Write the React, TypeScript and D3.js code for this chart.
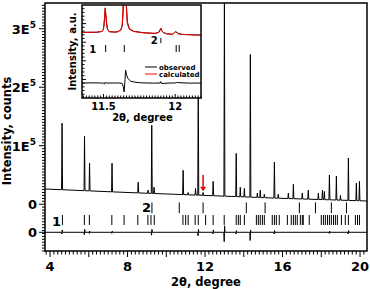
import React from 'react';
import * as d3 from 'd3';

const W = 370;
const H = 289;
const FONT = '"DejaVu Sans", Verdana, sans-serif';

// main pattern: peak positions (2theta, deg) and peak tops (x1e5 counts)
const peakPos = [4.62, 5.78, 6.04, 7.2, 8.55, 9.06, 9.25, 9.37, 10.87, 11.13, 11.51, 11.65, 11.9, 12.42, 13.0,
  13.61, 13.82, 14.03, 14.34, 14.7, 14.85, 15.06, 15.58, 15.78, 16.3, 16.56, 17.02, 17.33, 17.85, 18.06,
  18.16, 18.42, 18.78, 18.99, 19.4, 19.81, 19.97];
const peakTop = [1.385, 1.16, 0.7, 0.7, 0.376, 0.24, 1.35, 0.29, 0.58, 0.2, 0.27, 2.1, 0.2, 0.39, 3.6,
  0.87, 0.29, 0.27, 2.56, 0.19, 0.24, 0.17, 0.72, 0.17, 0.19, 0.34, 0.19, 0.24, 0.19, 0.24,
  0.22, 0.5, 0.48, 0.15, 0.79, 0.36, 0.39];
const bgPos = [3.74, 8, 12, 16, 20.36];
const bgVal = [0.26, 0.2, 0.15, 0.1, 0.055];

// Bragg reflection ticks
const phase1 = [4.64, 5.77, 6.03, 7.19, 7.82, 8.53, 9.05, 9.21, 9.38, 10.86, 11.0, 11.13, 11.49, 11.65, 12.03,
  12.42, 12.99, 13.61, 13.72, 13.82, 14.03, 14.65, 14.75, 14.85, 14.96, 15.06, 15.47, 15.58, 15.68, 15.83,
  16.25, 16.45, 16.56, 16.66, 16.76, 16.92, 17.02, 17.07, 17.38, 18.0, 18.11, 18.21, 18.32, 18.42, 18.52,
  18.63, 18.73, 18.83, 19.04, 19.24, 19.4, 19.76, 19.87, 19.97];
const phase2 = [9.26, 10.67, 11.9, 14.13, 15.1, 16.87, 17.7, 18.52, 19.3];

// difference curve spikes (x1e5)
const diffPos = [4.62, 5.78, 6.04, 7.2, 9.25, 11.65, 12.42, 13.0, 13.61, 14.34, 15.58, 18.42, 19.4];
const diffLo = [-0.03, -0.04, -0.02, -0.02, -0.05, -0.06, -0.03, -0.16, -0.03, -0.14, -0.03, -0.02, -0.03];
const diffHi = [0.04, 0.05, 0.02, 0.02, 0.05, 0.05, 0.04, 0.11, 0.03, 0.04, 0.03, 0.02, 0.03];
const diffZero = -0.48;

// inset (a.u.)
const insetPos = [11.35, 11.45, 11.49, 11.5, 11.505, 11.512, 11.52, 11.527, 11.54, 11.58, 11.6, 11.62, 11.63, 11.636,
  11.641, 11.648, 11.655, 11.66, 11.666, 11.68, 11.71, 11.78, 11.86, 11.885, 11.895, 11.9, 11.905, 11.915,
  11.94, 11.98, 11.995, 12.003, 12.01, 12.025, 12.05, 12.18];
const insetCalc = [70.5, 70.8, 71.5, 74, 82, 97, 82, 74, 71.5, 70.8, 71.2, 73, 78, 95,
  130, 200, 130, 95, 80, 74, 71.5, 70, 69.5, 70.5, 73, 74.5, 73, 70.5,
  69, 68.5, 70, 71.5, 70.5, 69, 68.3, 67.5];
const insetObs = [70.7, 70.6, 71.6, 74.2, 81, 96, 83, 74.3, 71.2, 70.9, 71.3, 73.2, 77, 90,
  120, 205, 140, 100, 82, 74.5, 71.7, 70.2, 69.4, 70.6, 73.5, 75, 72.8, 70.6,
  69.1, 68.4, 70.2, 71.3, 70.6, 69.2, 68.4, 67.6];
const insetDiffPos = [11.35, 11.42, 11.5, 11.507, 11.513, 11.52, 11.6, 11.63, 11.638, 11.644, 11.65, 11.654, 11.66,
  11.67, 11.69, 11.72, 11.76, 11.85, 11.895, 11.9, 11.905, 11.95, 12.0, 12.01, 12.1, 12.18];
const insetDiffVal = [16, 16.3, 16.1, 14.8, 17.2, 16, 16.2, 15.8, 12, 6.5, 20, 30, 25,
  21, 18, 17, 16.3, 16, 16.1, 17.6, 15.6, 16, 16.2, 16.6, 16, 16.1];
const insetPhase1 = [11.515, 11.645, 12.007, 12.028];
const insetPhase2 = [11.9];

const M = { l: 45, r: 367, t: 3, b: 251 };
const I = { l: 82, r: 201, t: 5, b: 98 };

export default function App() {
  const x = d3.scaleLinear().domain([3.74, 20.36]).range([M.l, M.r]);
  const y = d3.scaleLinear().domain([-0.8, 3.44]).range([M.b, M.t]);
  const bg = d3.scaleLinear().domain(bgPos).range(bgVal);

  const obsPts: [number, number][] = [[bgPos[0], bgVal[0]]];
  peakPos.forEach((p, i) => {
    obsPts.push([p - 0.025, bg(p - 0.025)], [p, peakTop[i]], [p + 0.025, bg(p + 0.025)]);
  });
  obsPts.push([bgPos[bgPos.length - 1], bgVal[bgVal.length - 1]]);

  const diffPts: [number, number][] = [[3.74, diffZero]];
  diffPos.forEach((p, i) => {
    diffPts.push([p - 0.03, diffZero], [p - 0.01, diffZero + diffLo[i]], [p + 0.01, diffZero + diffHi[i]], [p + 0.03, diffZero]);
  });
  diffPts.push([20.36, diffZero]);

  const line = d3.line<[number, number]>().x(d => x(d[0])).y(d => y(d[1]));

  const xi = d3.scaleLinear().domain([11.35, 12.18]).range([I.l, I.r]);
  const yi = d3.scaleLinear().domain([0, 100]).range([I.b, I.t]);
  const lineI = d3.line<number>().x((_, i) => xi(insetPos[i])).y(d => yi(d));
  const diffI = d3.line<number>().x((_, i) => xi(insetDiffPos[i])).y(d => yi(d));

  const xTicks = d3.range(19, 102).map(i => ({ v: i * 0.2, major: i % 10 === 0, label: i % 20 === 0 }));
  const yTicks = d3.range(-16, 69).map(i => ({ v: i * 0.05, major: i % 20 === 0 }));
  const xiTicks = d3.range(568, 610).map(i => ({ v: i * 0.02, major: i % 25 === 0 }));
  const yiTicks = d3.range(1, 25).map(i => ({ v: i * 4, major: i % 5 === 0 }));

  const txt = { fontFamily: FONT, fontWeight: 'bold' as const, fill: '#000' };

  return (
    <svg width={W} height={H} style={{ position: 'absolute', left: 0, top: 0 }}>
      <defs>
        <clipPath id="cm"><rect x={M.l} y={M.t} width={M.r - M.l} height={M.b - M.t} /></clipPath>
        <clipPath id="ci"><rect x={I.l} y={I.t} width={I.r - I.l} height={I.b - I.t} /></clipPath>
      </defs>
      <rect width={W} height={H} fill="#fff" />

      <g clipPath="url(#cm)">
        <path d={line(obsPts) ?? ''} fill="none" stroke="#000" strokeWidth={1} />
        <path d={line(diffPts) ?? ''} fill="none" stroke="#000" strokeWidth={1} />
        {phase1.map((p, i) => (
          <line key={'a' + i} x1={x(p)} x2={x(p)} y1={y(-0.185)} y2={y(-0.355)} stroke="#000" strokeWidth={1} />
        ))}
        {phase2.map((p, i) => (
          <line key={'b' + i} x1={x(p)} x2={x(p)} y1={y(0.03)} y2={y(-0.155)} stroke="#000" strokeWidth={1} />
        ))}
      </g>
      <text x={x(4.1)} y={y(-0.29) + 5} {...txt} fontSize={13}>1</text>
      <text x={x(8.75)} y={y(-0.05) + 5} {...txt} fontSize={13}>2</text>

      {/* red arrow */}
      <line x1={x(11.9)} x2={x(11.9)} y1={y(0.5)} y2={y(0.3)} stroke="#e00000" strokeWidth={1.5} />
      <path d={`M${x(11.9) - 3},${y(0.3)} L${x(11.9) + 3},${y(0.3)} L${x(11.9)},${y(0.22)} Z`} fill="#e00000" />

      {/* main frame & ticks */}
      <rect x={M.l} y={M.t} width={M.r - M.l} height={M.b - M.t} fill="none" stroke="#000" strokeWidth={1.5} />
      {xTicks.map((t, i) => (
        <line key={'xt' + i} x1={x(t.v)} x2={x(t.v)} y1={M.b} y2={M.b + (t.major ? 6 : 3.5)} stroke="#000" strokeWidth={1} />
      ))}
      {xTicks.filter(t => t.label).map((t, i) => (
        <text key={'xl' + i} x={x(t.v)} y={M.b + 19.5} textAnchor="middle" {...txt} fontSize={13}>{Math.round(t.v)}</text>
      ))}
      {yTicks.map((t, i) => (
        <line key={'yt' + i} x1={M.l} x2={M.l - (t.major ? 6 : 3)} y1={y(t.v)} y2={y(t.v)} stroke="#000" strokeWidth={1} />
      ))}
      <line x1={M.l} x2={M.l - 6} y1={y(diffZero)} y2={y(diffZero)} stroke="#000" strokeWidth={1} />
      {[1, 2, 3].map(v => (
        <text key={'yl' + v} x={M.l - 9} y={y(v) + 5} textAnchor="end" {...txt} fontSize={13}>
          {v}E<tspan dy={-6} fontSize={9}>5</tspan>
        </text>
      ))}
      <text x={M.l - 8} y={y(0) + 5} textAnchor="end" {...txt} fontSize={13}>0</text>
      <text x={M.l - 8} y={y(diffZero) + 5} textAnchor="end" {...txt} fontSize={13}>0</text>
      <text transform={`translate(11,${(M.t + M.b) / 2 + 4}) rotate(-90)`} textAnchor="middle" {...txt} fontSize={11.5}>Intensity, counts</text>
      <text x={(M.l + M.r) / 2 + 0} y={285.5} textAnchor="middle" {...txt} fontSize={11.5}>2θ, degree</text>

      {/* inset */}
      <rect x={I.l} y={I.t} width={I.r - I.l} height={I.b - I.t} fill="#fff" />
      <g clipPath="url(#ci)">
        <path d={lineI(insetObs) ?? ''} fill="none" stroke="#000" strokeWidth={1} />
        <path d={lineI(insetCalc) ?? ''} fill="none" stroke="#ff0000" strokeWidth={1} />
        <path d={diffI(insetDiffVal) ?? ''} fill="none" stroke="#000" strokeWidth={1} />
        {insetPhase1.map((p, i) => (
          <line key={'ip' + i} x1={xi(p)} x2={xi(p)} y1={yi(57)} y2={yi(49.5)} stroke="#000" strokeWidth={1} />
        ))}
        {insetPhase2.map((p, i) => (
          <line key={'iq' + i} x1={xi(p)} x2={xi(p)} y1={yi(64.5)} y2={yi(59)} stroke="#000" strokeWidth={1} />
        ))}
      </g>
      <text x={xi(11.4)} y={yi(49.5) + 1} {...txt} fontSize={10}>1</text>
      <text x={xi(11.83)} y={yi(58.5)} {...txt} fontSize={10}>2</text>
      {/* legend */}
      <line x1={145} x2={157} y1={67} y2={67} stroke="#000" strokeWidth={1} />
      <line x1={145} x2={157} y1={74} y2={74} stroke="#ff0000" strokeWidth={1} />
      <text x={159} y={69.5} {...txt} fontSize={7}>observed</text>
      <text x={159} y={76.5} {...txt} fontSize={7}>calculated</text>

      <rect x={I.l} y={I.t} width={I.r - I.l} height={I.b - I.t} fill="none" stroke="#000" strokeWidth={1.5} />
      {xiTicks.map((t, i) => (
        <line key={'xit' + i} x1={xi(t.v)} x2={xi(t.v)} y1={I.b} y2={I.b - (t.major ? 4 : 2.5)} stroke="#000" strokeWidth={1} />
      ))}
      {yiTicks.map((t, i) => (
        <line key={'yit' + i} x1={I.l} x2={I.l + (t.major ? 4 : 2.5)} y1={yi(t.v)} y2={yi(t.v)} stroke="#000" strokeWidth={1} />
      ))}
      {[11.5, 12].map(v => (
        <text key={'xil' + v} x={xi(v)} y={I.b + 12} textAnchor="middle" {...txt} fontSize={10}>{v}</text>
      ))}
      <text transform={`translate(76,${(I.t + I.b) / 2}) rotate(-90)`} textAnchor="middle" {...txt} fontSize={10}>Intensity, a.u.</text>
      <text x={(I.l + I.r) / 2 + 1} y={I.b + 23} textAnchor="middle" {...txt} fontSize={10}>2θ, degree</text>
    </svg>
  );
}
